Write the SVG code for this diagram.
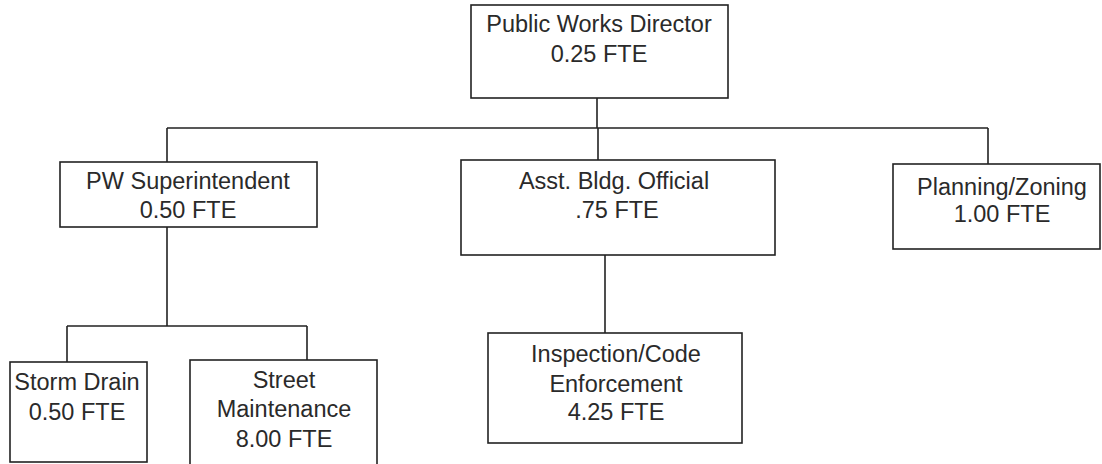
<svg xmlns="http://www.w3.org/2000/svg" width="1102" height="464" viewBox="0 0 1102 464">
<style>
.box{fill:#fff;stroke:#222;stroke-width:1.6}
.ln{fill:none;stroke:#222;stroke-width:1.6}
text{font-family:"Liberation Sans",Arial,sans-serif;font-size:23.5px;fill:#2a2a2a;text-anchor:middle}
</style>
<rect width="1102" height="464" fill="#fff"/>
<g id="connectors">
<path class="ln" d="M597 77V128M167 128H988M167 128V162M598 128V160M988 128V164"/>
<path class="ln" d="M605 255V333"/>
<path class="ln" d="M167 227V326M67 326H307M67 326V362M307 326V360"/>
</g>
<g id="director">
<rect class="box" x="471" y="5" width="257" height="93"/>
<text x="599" y="32">Public Works Director</text>
<text x="599" y="62">0.25 FTE</text>
</g>
<g id="pw-superintendent">
<rect class="box" x="60" y="162" width="257" height="65"/>
<text x="188" y="189">PW Superintendent</text>
<text x="188" y="218">0.50 FTE</text>
</g>
<g id="asst-bldg">
<rect class="box" x="461" y="160" width="314" height="95"/>
<text x="614" y="189">Asst. Bldg. Official</text>
<text x="617" y="218">.75 FTE</text>
</g>
<g id="planning">
<rect class="box" x="893" y="164" width="207" height="85"/>
<text x="1002" y="195">Planning/Zoning</text>
<text x="1002" y="222">1.00 FTE</text>
</g>
<g id="storm-drain">
<rect class="box" x="10" y="362" width="137" height="100"/>
<text x="77" y="390">Storm Drain</text>
<text x="77" y="420">0.50 FTE</text>
</g>
<g id="street">
<rect class="box" x="190" y="360" width="187" height="108"/>
<text x="284" y="388">Street</text>
<text x="284" y="417">Maintenance</text>
<text x="284" y="447">8.00 FTE</text>
</g>
<g id="inspection">
<rect class="box" x="488" y="333" width="254" height="110"/>
<text x="616" y="362">Inspection/Code</text>
<text x="616" y="392">Enforcement</text>
<text x="616" y="420">4.25 FTE</text>
</g>
</svg>
